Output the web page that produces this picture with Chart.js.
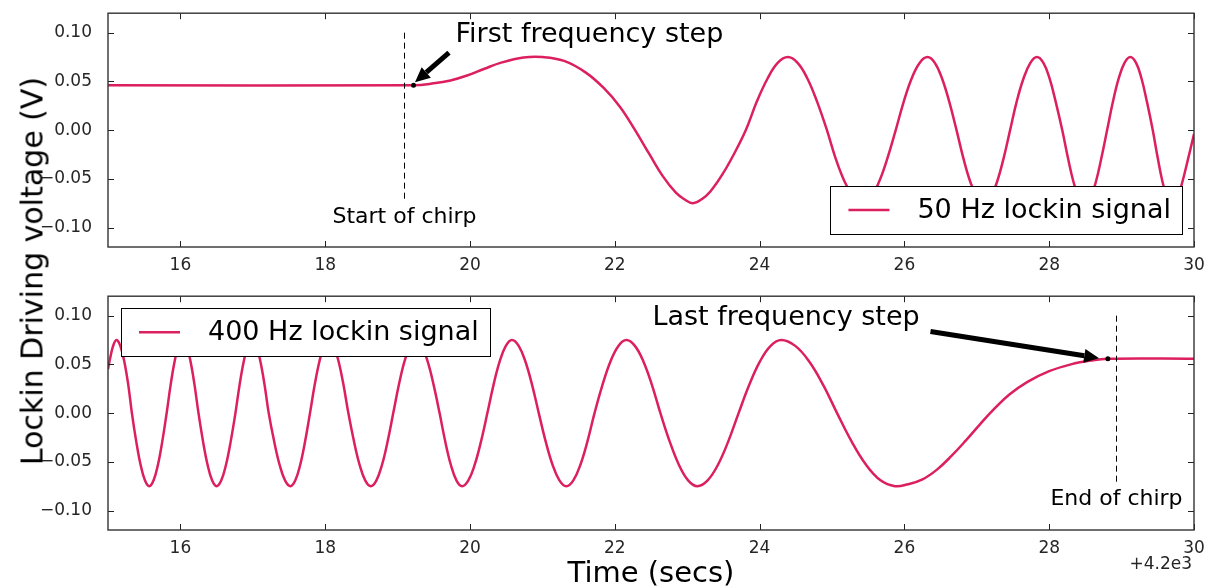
<!DOCTYPE html>
<html>
<head>
<meta charset="utf-8">
<title>Lockin driving voltage</title>
<script src="https://cdn.jsdelivr.net/npm/chart.js@4.4.1/dist/chart.umd.min.js"></script>
<style>
    html, body { margin: 0; padding: 0; background: #fff; }
    #page { position: relative; width: 1210px; height: 588px; overflow: hidden; font-family: 'DejaVu Sans', sans-serif; color: #000; }
    canvas { position: absolute; left: 0; }
    #top { top: -5px; }
    #bottom { top: 278px; }
    .label { position: absolute; white-space: nowrap; }
    #ylabel { left: 32px; top: 271px; font-size: 30px; transform: translate(-50%, -50%) rotate(-90deg); }
    #xlabel { left: 651px; top: 572px; font-size: 29px; transform: translate(-50%, -50%); }
    #offset { right: 18px; top: 563px; font-size: 17px; color: #262626; transform: translateY(-50%); }
</style>
</head>
<body>
<div id="page">
    <canvas id="top" width="1210" height="290"></canvas>
    <canvas id="bottom" width="1210" height="310"></canvas>
    <div class="label" id="ylabel">Lockin Driving voltage (V)</div>
    <div class="label" id="xlabel">Time (secs)</div>
    <div class="label" id="offset">+4.2e3</div>
</div>
<script>
// ====================================
// Data (time in s, offset by 4200 s)
// ====================================

const timeTicks = [16, 18, 20, 22, 24, 26, 28, 30];
const voltTicks = [-0.10, -0.05, 0.00, 0.05, 0.10];

// 50 Hz lockin: flat until the chirp starts, then speeds up
const time50 = [
    15.0, 19.22, 19.5, 19.73, 19.96, 20.20, 20.42, 20.74, 21.0,
    21.30, 21.60, 21.85, 22.07, 22.28, 22.48, 22.66, 22.84, 22.96, 23.08,
    23.20, 23.32, 23.49, 23.65, 23.81, 23.96, 24.11, 24.25, 24.39,
    24.525, 24.66, 24.795, 24.93, 25.05, 25.175, 25.30, 25.42,
    25.535, 25.65, 25.765, 25.88, 25.99, 26.10, 26.21, 26.32,
    26.42, 26.52, 26.62, 26.72, 26.815, 26.91, 27.005, 27.10,
    27.19, 27.28, 27.37, 27.46, 27.55, 27.645, 27.74, 27.83,
    27.92, 28.005, 28.09, 28.18, 28.26, 28.335, 28.41, 28.49,
    28.57, 28.645, 28.72, 28.80, 28.88, 28.96, 29.04, 29.12,
    29.20, 29.275, 29.35, 29.43, 29.50, 29.565, 29.63, 29.70,
    29.77, 29.84, 29.92, 30.0
];
const volt50 = [
    0.046, 0.046, 0.048, 0.051, 0.056, 0.063, 0.069, 0.0745, 0.075,
    0.071, 0.059, 0.043, 0.024, 0.0, -0.025, -0.047, -0.064, -0.071, -0.075,
    -0.071, -0.063, -0.045, -0.024, 0.0, 0.029, 0.053, 0.069, 0.075,
    0.069, 0.053, 0.029, 0.0, -0.029, -0.053, -0.069, -0.075,
    -0.069, -0.053, -0.029, 0.0, 0.029, 0.053, 0.069, 0.075,
    0.069, 0.053, 0.029, 0.0, -0.029, -0.053, -0.069, -0.075,
    -0.069, -0.053, -0.029, 0.0, 0.029, 0.053, 0.069, 0.075,
    0.069, 0.053, 0.029, 0.0, -0.029, -0.053, -0.069, -0.075,
    -0.069, -0.053, -0.029, 0.0, 0.029, 0.053, 0.069, 0.075,
    0.069, 0.053, 0.029, 0.0, -0.029, -0.053, -0.069, -0.075,
    -0.069, -0.053, -0.029, -0.004
];

// 400 Hz lockin: slows down and settles once the chirp ends
const time400 = [
    15.0, 15.04, 15.08, 15.12,
    15.17, 15.225, 15.28, 15.33, 15.39, 15.45, 15.51, 15.57,
    15.63, 15.69, 15.75, 15.81, 15.865, 15.92, 15.975, 16.03,
    16.085, 16.14, 16.195, 16.25, 16.3125, 16.375, 16.4375, 16.50,
    16.565, 16.63, 16.695, 16.76, 16.8175, 16.875, 16.9325, 16.99,
    17.0475, 17.105, 17.1625, 17.22, 17.295, 17.37, 17.445, 17.52,
    17.5875, 17.655, 17.7225, 17.79, 17.855, 17.92, 17.985, 18.05,
    18.1175, 18.185, 18.2525, 18.32, 18.3975, 18.475, 18.5525, 18.63,
    18.7075, 18.785, 18.8625, 18.94, 19.0175, 19.095, 19.1725, 19.25,
    19.3325, 19.415, 19.4975, 19.58, 19.6575, 19.735, 19.8125, 19.89,
    19.9775, 20.065, 20.1525, 20.24, 20.325, 20.41, 20.495, 20.58,
    20.6725, 20.765, 20.8575, 20.95, 21.045, 21.14, 21.235, 21.33,
    21.4275, 21.525, 21.6225, 21.72, 21.83, 21.94, 22.05, 22.16,
    22.2775, 22.395, 22.5125, 22.63, 22.7575, 22.885, 23.0125, 23.14,
    23.2825, 23.425, 23.5675, 23.71, 23.8575, 24.005, 24.1525, 24.30,
    24.4925, 24.685, 24.8775, 25.07, 25.27, 25.47, 25.67, 25.87,
    26.05, 26.25, 26.45, 26.65, 26.85, 27.05, 27.25, 27.45,
    27.70, 28.00, 28.30, 28.58, 28.81, 30.0
];
const volt400 = [
    0.045, 0.060, 0.071, 0.075,
    0.069, 0.053, 0.029, 0.0, -0.029, -0.053, -0.069, -0.075,
    -0.069, -0.053, -0.029, 0.0, 0.029, 0.053, 0.069, 0.075,
    0.069, 0.053, 0.029, 0.0, -0.029, -0.053, -0.069, -0.075,
    -0.069, -0.053, -0.029, 0.0, 0.029, 0.053, 0.069, 0.075,
    0.069, 0.053, 0.029, 0.0, -0.029, -0.053, -0.069, -0.075,
    -0.069, -0.053, -0.029, 0.0, 0.029, 0.053, 0.069, 0.075,
    0.069, 0.053, 0.029, 0.0, -0.029, -0.053, -0.069, -0.075,
    -0.069, -0.053, -0.029, 0.0, 0.029, 0.053, 0.069, 0.075,
    0.069, 0.053, 0.029, 0.0, -0.029, -0.053, -0.069, -0.075,
    -0.069, -0.053, -0.029, 0.0, 0.029, 0.053, 0.069, 0.075,
    0.069, 0.053, 0.029, 0.0, -0.029, -0.053, -0.069, -0.075,
    -0.069, -0.053, -0.029, 0.0, 0.029, 0.053, 0.069, 0.075,
    0.069, 0.053, 0.029, 0.0, -0.029, -0.053, -0.069, -0.075,
    -0.069, -0.053, -0.029, 0.0, 0.029, 0.053, 0.069, 0.075,
    0.069, 0.053, 0.029, 0.0, -0.029, -0.053, -0.069, -0.075,
    -0.073, -0.068, -0.058, -0.044, -0.028, -0.011, 0.005, 0.019,
    0.032, 0.043, 0.050, 0.054, 0.0558, 0.0558
];

// ====================================
// Shared look
// ====================================

const FONT = 'DejaVu Sans';
const lineColor = '#dc1f5e';
const tickColor = '#262626';

const fmtVolt = v => v.toFixed(2).replace('-', '\u2212');

// frame on all four sides with inward tick marks
const frameTicks = {
    id: 'frameTicks',
    afterDraw(chart) {
        const { ctx, chartArea: a, scales: { x, y } } = chart;
        const len = 6;
        ctx.save();
        ctx.strokeStyle = '#222';
        ctx.lineWidth = 1;
        ctx.beginPath();
        x.ticks.forEach(t => {
            const px = Math.round(x.getPixelForValue(t.value)) + 0.5;
            ctx.moveTo(px, a.top); ctx.lineTo(px, a.top + len);
            ctx.moveTo(px, a.bottom); ctx.lineTo(px, a.bottom - len);
        });
        y.ticks.forEach(t => {
            const py = Math.round(y.getPixelForValue(t.value)) + 0.5;
            ctx.moveTo(a.left, py); ctx.lineTo(a.left + len, py);
            ctx.moveTo(a.right, py); ctx.lineTo(a.right - len, py);
        });
        ctx.stroke();
        ctx.lineWidth = 1.4;
        ctx.strokeStyle = '#333';
        ctx.strokeRect(a.left, a.top, a.right - a.left, a.bottom - a.top);
        ctx.restore();
    }
};

function drawArrow(ctx, x0, y0, x1, y1) {
    const dx = x1 - x0, dy = y1 - y0;
    const d = Math.hypot(dx, dy);
    const ux = dx / d, uy = dy / d;
    const head = 15, half = 7;
    const bx = x1 - ux * head, by = y1 - uy * head;
    ctx.lineWidth = 5;
    ctx.beginPath();
    ctx.moveTo(x0, y0);
    ctx.lineTo(bx, by);
    ctx.stroke();
    ctx.beginPath();
    ctx.moveTo(x1, y1);
    ctx.lineTo(bx - uy * half, by + ux * half);
    ctx.lineTo(bx + uy * half, by - ux * half);
    ctx.closePath();
    ctx.fill();
}

// chirp marker, annotation arrow and the boxed legend
const chirpMarks = {
    id: 'chirpMarks',
    afterDatasetsDraw(chart, args, opts) {
        const { ctx, chartArea: a, scales: { x, y } } = chart;
        const px = v => x.getPixelForValue(v);
        const py = v => y.getPixelForValue(v);
        ctx.save();
        ctx.strokeStyle = '#000';
        ctx.fillStyle = '#000';

        // dashed line where the chirp starts / ends
        const cx = Math.round(px(opts.chirpAt)) + 0.5;
        ctx.lineWidth = 1;
        ctx.setLineDash([6, 4]);
        ctx.beginPath();
        ctx.moveTo(cx, py(opts.chirpSpan[1]));
        ctx.lineTo(cx, py(opts.chirpSpan[0]));
        ctx.stroke();
        ctx.setLineDash([]);

        ctx.font = `22px "${FONT}"`;
        ctx.textAlign = 'center';
        ctx.textBaseline = 'middle';
        ctx.fillText(opts.chirpLabel, cx, py(opts.chirpLabelY));

        // frequency step note
        drawArrow(ctx, px(opts.arrowFrom[0]), py(opts.arrowFrom[1]), px(opts.arrowTo[0]), py(opts.arrowTo[1]));
        ctx.beginPath();
        ctx.arc(px(opts.dot[0]), py(opts.dot[1]), 2.5, 0, Math.PI * 2);
        ctx.fill();

        ctx.font = `27px "${FONT}"`;
        ctx.textAlign = 'left';
        ctx.textBaseline = 'alphabetic';
        ctx.fillText(opts.note, px(opts.noteAt[0]), py(opts.noteAt[1]));

        // legend box
        const ds = chart.data.datasets[0];
        ctx.textBaseline = 'middle';
        const tw = ctx.measureText(ds.label).width;
        const bw = 18 + 41 + 28 + tw + 11, bh = 48;
        const bx = opts.legendCorner === 'lower right' ? a.right - 12 - bw : a.left + 13;
        const by = opts.legendCorner === 'lower right' ? a.bottom - 13 - bh : a.top + 12;
        ctx.fillStyle = '#fff';
        ctx.fillRect(bx, by, bw, bh);
        ctx.lineWidth = 1;
        ctx.strokeStyle = '#000';
        ctx.strokeRect(Math.round(bx) + 0.5, Math.round(by) + 0.5, Math.round(bw), bh);
        ctx.strokeStyle = ds.borderColor;
        ctx.lineWidth = ds.borderWidth;
        ctx.beginPath();
        ctx.moveTo(bx + 18, by + bh / 2);
        ctx.lineTo(bx + 59, by + bh / 2);
        ctx.stroke();
        ctx.fillStyle = '#000';
        ctx.fillText(ds.label, bx + 87, by + bh / 2 + 1);
        ctx.restore();
    }
};

// ====================================
// One lockin panel
// ====================================

function createLockinChart(canvasId, times, volts, label, marks, xAxisHeight) {
    const ctx = document.getElementById(canvasId);
    if (!ctx) return null;

    return new Chart(ctx, {
        type: 'line',
        data: {
            datasets: [{
                label: label,
                data: times.map((t, i) => ({ x: t, y: volts[i] })),
                borderColor: lineColor,
                borderWidth: 2.5,
                pointRadius: 0,
                tension: 0.4,
                fill: false
            }]
        },
        options: {
            responsive: false,
            animation: false,
            events: [],
            layout: { padding: { left: 0, top: 12, right: 16, bottom: 0 } },
            plugins: {
                legend: { display: false },
                tooltip: { enabled: false },
                chirpMarks: marks
            },
            scales: {
                x: {
                    type: 'linear',
                    min: 15,
                    max: 30,
                    grid: { display: false },
                    border: { display: false },
                    afterBuildTicks: axis => { axis.ticks = timeTicks.map(v => ({ value: v })); },
                    afterFit: axis => { axis.height = xAxisHeight; },
                    ticks: {
                        color: tickColor,
                        padding: 0,
                        maxRotation: 0,
                        font: { family: FONT, size: 17 },
                        callback: v => String(v)
                    }
                },
                y: {
                    min: -0.12,
                    max: 0.12,
                    grid: { display: false },
                    border: { display: false },
                    afterBuildTicks: axis => { axis.ticks = voltTicks.map(v => ({ value: v })); },
                    afterFit: axis => { axis.width = 108; },
                    ticks: {
                        color: tickColor,
                        padding: 8,
                        font: { family: FONT, size: 17 },
                        callback: v => fmtVolt(v)
                    }
                }
            }
        },
        plugins: [frameTicks, chirpMarks]
    });
}

createLockinChart('top', time50, volt50, '50 Hz lockin signal', {
    chirpAt: 19.09,
    chirpSpan: [-0.072, 0.1],
    chirpLabel: 'Start of chirp',
    chirpLabelY: -0.089,
    note: 'First frequency step',
    noteAt: [19.80, 0.090],
    arrowFrom: [19.71, 0.0796],
    arrowTo: [19.24, 0.049],
    dot: [19.22, 0.046],
    legendCorner: 'lower right'
}, 38);

createLockinChart('bottom', time400, volt400, '400 Hz lockin signal', {
    chirpAt: 28.92,
    chirpSpan: [-0.072, 0.1],
    chirpLabel: 'End of chirp',
    chirpLabelY: -0.088,
    note: 'Last frequency step',
    noteAt: [22.52, 0.090],
    arrowFrom: [26.36, 0.0837],
    arrowTo: [28.69, 0.0564],
    dot: [28.81, 0.0558],
    legendCorner: 'upper left'
}, 58);
</script>
</body>
</html>
